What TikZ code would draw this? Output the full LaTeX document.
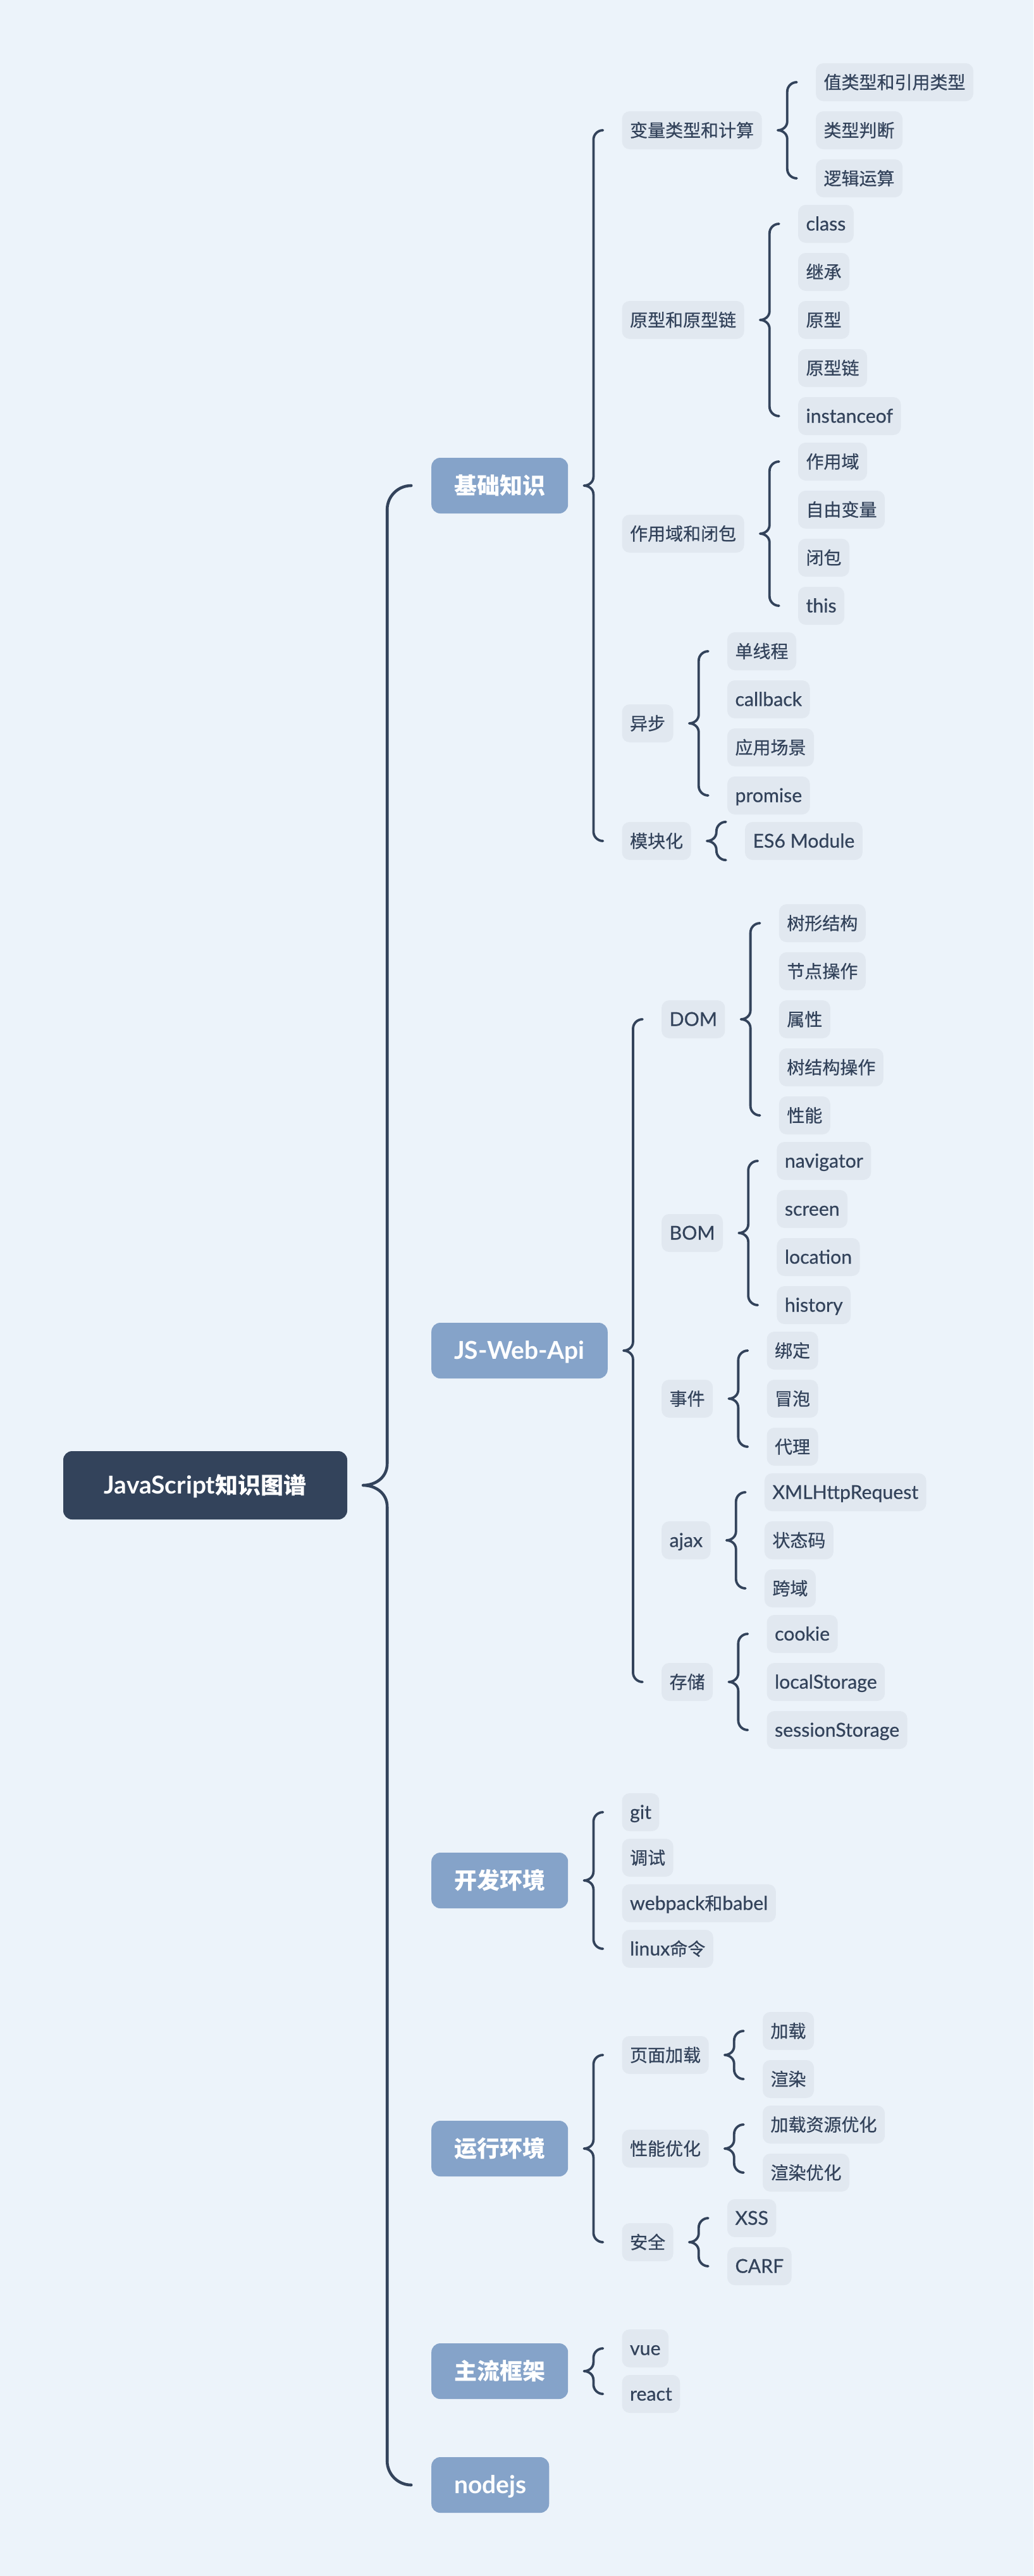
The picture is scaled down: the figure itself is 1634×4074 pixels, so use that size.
\documentclass[tikz,border=0pt]{standalone}
\usepackage{fontspec}
\setmainfont{Lato}[Scale=1.08, UprightFeatures={FakeBold=0.6}]
\newfontfamily\cjk{Noto Sans CJK SC}[UprightFeatures={FakeBold=0.6}]
\usetikzlibrary{calc}
\definecolor{bg}{HTML}{ECF3FA}
\definecolor{ink}{HTML}{33435B}
\definecolor{topic}{HTML}{85A3C9}
\definecolor{leafbg}{HTML}{E1E8F0}
\newcommand\zh[1]{{\cjk #1}}

% curly bracket from a parent node to the span of its children
\newcommand\brc[3]{%
  \draw[brc] let \p1=(#1.east), \p2=(#2), \p3=(#3) in
    (\x1+55pt,\y2) arc[start angle=90,end angle=180,radius=15pt]
    -- (\x1+40pt,\y1+14pt)
    .. controls (\x1+40pt,\y1+5pt) and (\x1+32pt,\y1) .. (\x1+25pt,\y1)
    .. controls (\x1+32pt,\y1) and (\x1+40pt,\y1-5pt) .. (\x1+40pt,\y1-14pt)
    -- (\x1+40pt,\y3+15pt)
    arc[start angle=180,end angle=270,radius=15pt];}
\newcommand\col[2]{\coordinate (#1) at ([xshift=85pt]#2.east);}

\tikzset{
  base/.style={anchor=west, inner ysep=0pt},
  leaf/.style={base, fill=leafbg, text=ink, rounded corners=12pt,
    minimum height=60pt, inner xsep=12.5pt,
    font=\fontsize{28}{34}\selectfont, text height=25pt, text depth=4pt},
  topicbox/.style={base, fill=topic, text=white, rounded corners=14pt,
    minimum height=88pt, inner xsep=36pt,
    font=\fontsize{36}{44}\selectfont\bfseries, text height=33pt, text depth=5.5pt},
  rootbox/.style={fill=ink, text=white, rounded corners=14pt,
    minimum height=108pt, minimum width=449pt, inner ysep=0pt,
    font=\fontsize{36}{44}\selectfont\bfseries, text height=33pt, text depth=5.5pt},
  brc/.style={draw=ink, line width=3.8pt, line cap=round, line join=round},
  rootbrc/.style={brc, line width=4.6pt},
}

\begin{document}
\begin{tikzpicture}[x=1pt,y=1pt]
\useasboundingbox (0,0) rectangle (1634,-4074);
\fill[bg] (0,0) rectangle (1634,-4074);

% root and main topics
\node[rootbox] (root) at (324.5,-2349) {JavaScript\zh{知识图谱}};
\node[topicbox] (k1) at (682,-768) {\zh{基础知识}};
\node[topicbox] (k2) at (682,-2136) {JS-Web-Api};
\node[topicbox] (k3) at (682,-2974) {\zh{开发环境}};
\node[topicbox] (k4) at (682,-3398) {\zh{运行环境}};
\node[topicbox] (k5) at (682,-3750) {\zh{主流框架}};
\node[topicbox] (k6) at (682,-3930) {nodejs};

% 基础知识
\col{c1}{k1}
\node[leaf] (k1a) at (c1 |- 0,-206) {\zh{变量类型和计算}};
\node[leaf] (k1b) at (c1 |- 0,-506) {\zh{原型和原型链}};
\node[leaf] (k1c) at (c1 |- 0,-844) {\zh{作用域和闭包}};
\node[leaf] (k1d) at (c1 |- 0,-1144) {\zh{异步}};
\node[leaf] (k1e) at (c1 |- 0,-1330) {\zh{模块化}};
\col{c1a}{k1a}
\node[leaf] (k1a1) at (c1a |- 0,-130) {\zh{值类型和引用类型}};
\node[leaf] (k1a2) at (c1a |- 0,-206) {\zh{类型判断}};
\node[leaf] (k1a3) at (c1a |- 0,-282) {\zh{逻辑运算}};
\col{c1b}{k1b}
\node[leaf] (k1b1) at (c1b |- 0,-354) {class};
\node[leaf] (k1b2) at (c1b |- 0,-430) {\zh{继承}};
\node[leaf] (k1b3) at (c1b |- 0,-506) {\zh{原型}};
\node[leaf] (k1b4) at (c1b |- 0,-582) {\zh{原型链}};
\node[leaf] (k1b5) at (c1b |- 0,-658) {instanceof};
\col{c1c}{k1c}
\node[leaf] (k1c1) at (c1c |- 0,-730) {\zh{作用域}};
\node[leaf] (k1c2) at (c1c |- 0,-806) {\zh{自由变量}};
\node[leaf] (k1c3) at (c1c |- 0,-882) {\zh{闭包}};
\node[leaf] (k1c4) at (c1c |- 0,-958) {this};
\col{c1d}{k1d}
\node[leaf] (k1d1) at (c1d |- 0,-1030) {\zh{单线程}};
\node[leaf] (k1d2) at (c1d |- 0,-1106) {callback};
\node[leaf] (k1d3) at (c1d |- 0,-1182) {\zh{应用场景}};
\node[leaf] (k1d4) at (c1d |- 0,-1258) {promise};
\col{c1e}{k1e}
\node[leaf] (k1e1) at (c1e |- 0,-1330) {ES6 Module};

% JS-Web-Api
\col{c2}{k2}
\node[leaf] (k2a) at (c2 |- 0,-1612) {DOM};
\node[leaf] (k2b) at (c2 |- 0,-1950) {BOM};
\node[leaf] (k2c) at (c2 |- 0,-2212) {\zh{事件}};
\node[leaf] (k2d) at (c2 |- 0,-2436) {ajax};
\node[leaf] (k2e) at (c2 |- 0,-2660) {\zh{存储}};
\col{c2a}{k2a}
\node[leaf] (k2a1) at (c2a |- 0,-1460) {\zh{树形结构}};
\node[leaf] (k2a2) at (c2a |- 0,-1536) {\zh{节点操作}};
\node[leaf] (k2a3) at (c2a |- 0,-1612) {\zh{属性}};
\node[leaf] (k2a4) at (c2a |- 0,-1688) {\zh{树结构操作}};
\node[leaf] (k2a5) at (c2a |- 0,-1764) {\zh{性能}};
\col{c2b}{k2b}
\node[leaf] (k2b1) at (c2b |- 0,-1836) {navigator};
\node[leaf] (k2b2) at (c2b |- 0,-1912) {screen};
\node[leaf] (k2b3) at (c2b |- 0,-1988) {location};
\node[leaf] (k2b4) at (c2b |- 0,-2064) {history};
\col{c2c}{k2c}
\node[leaf] (k2c1) at (c2c |- 0,-2136) {\zh{绑定}};
\node[leaf] (k2c2) at (c2c |- 0,-2212) {\zh{冒泡}};
\node[leaf] (k2c3) at (c2c |- 0,-2288) {\zh{代理}};
\col{c2d}{k2d}
\node[leaf] (k2d1) at (c2d |- 0,-2360) {XMLHttpRequest};
\node[leaf] (k2d2) at (c2d |- 0,-2436) {\zh{状态码}};
\node[leaf] (k2d3) at (c2d |- 0,-2512) {\zh{跨域}};
\col{c2e}{k2e}
\node[leaf] (k2e1) at (c2e |- 0,-2584) {cookie};
\node[leaf] (k2e2) at (c2e |- 0,-2660) {localStorage};
\node[leaf] (k2e3) at (c2e |- 0,-2736) {sessionStorage};

% 开发环境
\col{c3}{k3}
\node[leaf] (k3a) at (c3 |- 0,-2866) {git};
\node[leaf] (k3b) at (c3 |- 0,-2938) {\zh{调试}};
\node[leaf] (k3c) at (c3 |- 0,-3010) {webpack\zh{和}babel};
\node[leaf] (k3d) at (c3 |- 0,-3082) {linux\zh{命令}};

% 运行环境
\col{c4}{k4}
\node[leaf] (k4a) at (c4 |- 0,-3250) {\zh{页面加载}};
\node[leaf] (k4b) at (c4 |- 0,-3398) {\zh{性能优化}};
\node[leaf] (k4c) at (c4 |- 0,-3546) {\zh{安全}};
\col{c4a}{k4a}
\node[leaf] (k4a1) at (c4a |- 0,-3212) {\zh{加载}};
\node[leaf] (k4a2) at (c4a |- 0,-3288) {\zh{渲染}};
\col{c4b}{k4b}
\node[leaf] (k4b1) at (c4b |- 0,-3360) {\zh{加载资源优化}};
\node[leaf] (k4b2) at (c4b |- 0,-3436) {\zh{渲染优化}};
\col{c4c}{k4c}
\node[leaf] (k4c1) at (c4c |- 0,-3508) {XSS};
\node[leaf] (k4c2) at (c4c |- 0,-3584) {CARF};

% 主流框架
\col{c5}{k5}
\node[leaf] (k5a) at (c5 |- 0,-3714) {vue};
\node[leaf] (k5b) at (c5 |- 0,-3786) {react};

% root bracket
\draw[rootbrc] let \p1=(root.east), \p2=(k1.west), \p3=(k6.west) in
  (\x1+101pt,\y2) arc[start angle=90,end angle=180,radius=38pt]
  -- (\x1+63pt,\y1+34pt)
  .. controls (\x1+63pt,\y1+12pt) and (\x1+44pt,\y1) .. (\x1+25pt,\y1)
  .. controls (\x1+44pt,\y1) and (\x1+63pt,\y1-12pt) .. (\x1+63pt,\y1-34pt)
  -- (\x1+63pt,\y3+38pt)
  arc[start angle=180,end angle=270,radius=38pt];

% topic brackets
\brc{k1}{k1a}{k1e}
\brc{k2}{k2a}{k2e}
\brc{k3}{k3a}{k3d}
\brc{k4}{k4a}{k4c}
\brc{k5}{k5a}{k5b}

% subtopic brackets
\brc{k1a}{k1a1}{k1a3}
\brc{k1b}{k1b1}{k1b5}
\brc{k1c}{k1c1}{k1c4}
\brc{k1d}{k1d1}{k1d4}
\brc{k1e}{k1e1.north}{k1e1.south}
\brc{k2a}{k2a1}{k2a5}
\brc{k2b}{k2b1}{k2b4}
\brc{k2c}{k2c1}{k2c3}
\brc{k2d}{k2d1}{k2d3}
\brc{k2e}{k2e1}{k2e3}
\brc{k4a}{k4a1}{k4a2}
\brc{k4b}{k4b1}{k4b2}
\brc{k4c}{k4c1}{k4c2}
\end{tikzpicture}
\end{document}
